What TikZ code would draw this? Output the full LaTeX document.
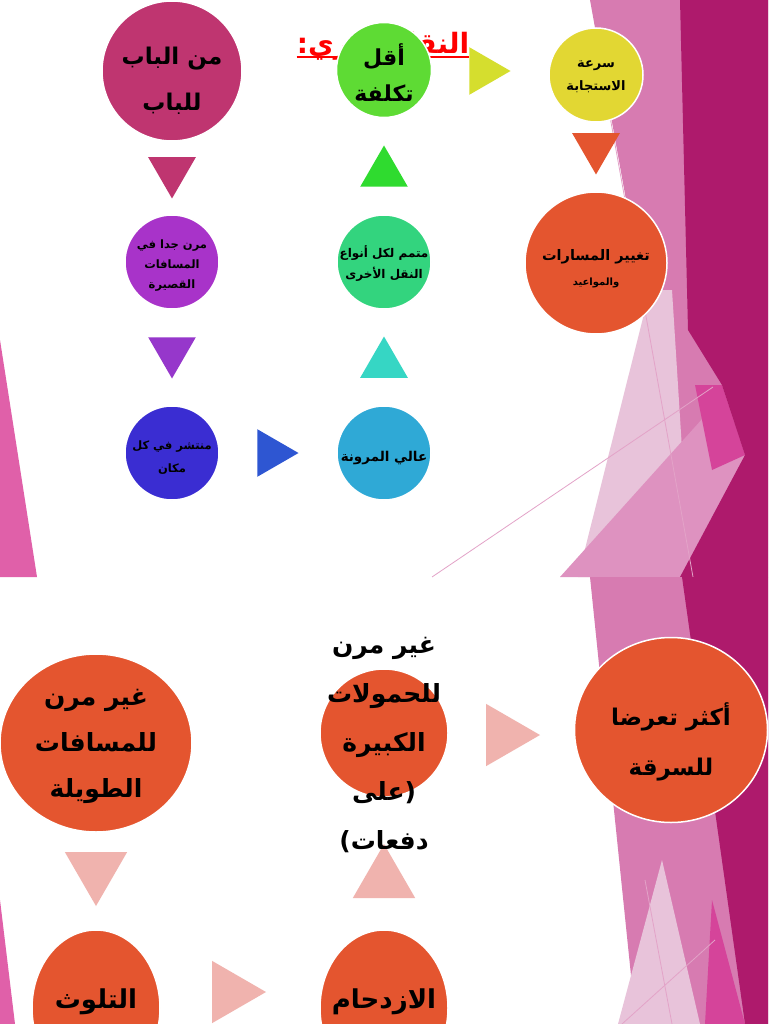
\documentclass[tikz,border=0pt]{standalone}
\usepackage{fontspec}
\setmainfont{DejaVu Sans}
\newfontfamily\arabicfont[Script=Arabic]{DejaVu Sans}
\TeXXeTstate=1
\usetikzlibrary{shapes.geometric}

\definecolor{rosec}{HTML}{BF3570}
\definecolor{limec}{HTML}{5EDB34}
\definecolor{yellowc}{HTML}{E2D733}
\definecolor{orangec}{HTML}{E4552F}
\definecolor{mintc}{HTML}{33D47E}
\definecolor{skyc}{HTML}{2FA9D6}
\definecolor{indigoc}{HTML}{3A2DD2}
\definecolor{purplec}{HTML}{A833C9}
\definecolor{greentri}{HTML}{2FDB2F}
\definecolor{olivetri}{HTML}{D5DE2E}
\definecolor{tealtri}{HTML}{36D6C4}
\definecolor{violettri}{HTML}{9637CB}
\definecolor{bluetri}{HTML}{2E56D2}
\definecolor{paletri}{HTML}{F0B3AE}
\definecolor{magentabg}{HTML}{AE1A6C}
\definecolor{pinkbg}{HTML}{D77BB1}
\definecolor{hotpinkbg}{HTML}{D5449A}
\definecolor{lilacbg}{HTML}{E8C3DA}
\definecolor{midpinkbg}{HTML}{DE92C0}
\definecolor{edgepink}{HTML}{E060A9}

\newcommand{\arl}[1]{\beginR #1\endR}

\begin{document}
\begin{tikzpicture}[x=1pt, y=-1pt]
    \tikzstyle{bubble} = [circle, draw=white, line width=1.5pt, inner sep=0pt]
    \tikzstyle{oval} = [ellipse, draw=white, line width=1.5pt, inner sep=0pt, fill=orangec]
    \tikzstyle{txt} = [align=center, text=black, inner sep=0pt]
    \tikzstyle{tri} = [regular polygon, regular polygon sides=3, inner sep=0pt, minimum size=55pt]
    \tikzstyle{bigtri} = [tri, minimum size=72pt, fill=paletri]

    \fill[white] (0,0) rectangle (768,1024);
    \useasboundingbox (0,0) rectangle (768,1024);
    \clip (0,0) rectangle (768,1024);

    % first slide, background
    \fill[edgepink] (0,340) -- (37,577) -- (0,577) -- cycle;
    \fill[pinkbg] (590,0) -- (768,0) -- (768,577) -- (694,577) -- cycle;
    \fill[lilacbg] (650,290) -- (672,290) -- (690,577) -- (578,577) -- cycle;
    \fill[midpinkbg] (560,577) -- (712,408) -- (745,455) -- (690,577) -- cycle;
    \fill[hotpinkbg] (695,385) -- (722,385) -- (745,455) -- (712,470) -- cycle;
    \fill[magentabg] (680,0) -- (768,0) -- (768,577) -- (680,577) -- (745,455) -- (722,385) -- (688,330) -- cycle;
    \draw[pinkbg!70, line width=0.8pt] (432,577) -- (713,387);
    \draw[pinkbg!70, line width=0.8pt] (607,100) -- (693,577);

    % second slide, background
    \fill[edgepink] (0,900) -- (15,1024) -- (0,1024) -- cycle;
    \fill[pinkbg] (590,577) -- (768,577) -- (768,1024) -- (636,1024) -- cycle;
    \fill[lilacbg] (662,860) -- (700,1024) -- (618,1024) -- cycle;
    \fill[hotpinkbg] (712,900) -- (745,1024) -- (705,1024) -- cycle;
    \fill[magentabg] (682,577) -- (768,577) -- (768,1024) -- (745,1024) -- cycle;
    \draw[pinkbg!70, line width=0.8pt] (645,880) -- (672,1024);
    \draw[pinkbg!70, line width=0.8pt] (622,1024) -- (715,940);

    % title
    \node (title) [txt, text=red, font=\arabicfont\bfseries\fontsize{28}{34}\selectfont, anchor=base] at (383,54) {\arl{النقل البري:}};
    \draw[red, line width=2pt] ([yshift=-3pt]title.base west) -- ([yshift=-3pt]title.base east);

    % first slide, circles
    \node (c1) [bubble, fill=rosec, minimum size=140pt] at (172,71) {};
    \node (c2) [bubble, fill=limec, minimum size=95pt] at (384,70) {};
    \node (c3) [bubble, fill=yellowc, minimum size=94pt] at (596,75) {};
    \node (c4) [bubble, fill=orangec, minimum size=142pt] at (596,263) {};
    \node (c5) [bubble, fill=mintc, minimum size=94pt] at (384,262) {};
    \node (c6) [bubble, fill=skyc, minimum size=94pt] at (384,453) {};
    \node (c7) [bubble, fill=indigoc, minimum size=94pt] at (172,453) {};
    \node (c8) [bubble, fill=purplec, minimum size=94pt] at (172,262) {};

    \node (t1) [tri, fill=rosec, shape border rotate=180] at (172,171) {};
    \node (t2) [tri, fill=greentri] at (384,173) {};
    \node (t3) [tri, fill=olivetri, shape border rotate=-90] at (483,71) {};
    \node (t4) [tri, fill=orangec, shape border rotate=180] at (596,147) {};
    \node (t5) [tri, fill=tealtri] at (384,364) {};
    \node (t6) [tri, fill=violettri, shape border rotate=180] at (172,351) {};
    \node (t7) [tri, fill=bluetri, shape border rotate=-90] at (271,453) {};

    \node (c1t) [txt, font=\arabicfont\bfseries\fontsize{23}{46}\selectfont] at (172,81) {\arl{من الباب}\\\arl{للباب}};
    \node (c2t) [txt, font=\arabicfont\bfseries\fontsize{22}{36}\selectfont] at (384,73) {\arl{أقل}\\\arl{تكلفة}};
    \node (c3t) [txt, font=\arabicfont\bfseries\fontsize{13}{23}\selectfont] at (596,77) {\arl{سرعة}\\\arl{الاستجابة}};
    \node (c4t) [txt, font=\arabicfont\bfseries\fontsize{14.5}{24}\selectfont] at (596,257) {\arl{تغيير المسارات}};
    \node (c4s) [txt, font=\arabicfont\bfseries\fontsize{10}{14}\selectfont] at (596,283) {\arl{والمواعيد}};
    \node (c5t) [txt, font=\arabicfont\bfseries\fontsize{12}{21}\selectfont] at (384,264) {\arl{متمم لكل أنواع}\\\arl{النقل الأخرى}};
    \node (c6t) [txt, font=\arabicfont\bfseries\fontsize{13.5}{24}\selectfont] at (384,458) {\arl{عالي المرونة}};
    \node (c7t) [txt, font=\arabicfont\bfseries\fontsize{11.5}{23}\selectfont] at (172,458) {\arl{منتشر في كل}\\\arl{مكان}};
    \node (c8t) [txt, font=\arabicfont\bfseries\fontsize{11.5}{20}\selectfont] at (172,266) {\arl{مرن جدا في}\\\arl{المسافات}\\\arl{القصيرة}};

    % second slide, circles
    \node (d1) [oval, minimum width=192pt, minimum height=178pt] at (96,743) {};
    \node (d2) [oval, minimum width=128pt, minimum height=128pt] at (384,733) {};
    \node (d3) [oval, minimum width=193pt, minimum height=185pt] at (671,730) {};
    \node (d4) [oval, minimum width=128pt, minimum height=156pt] at (96,1008) {};
    \node (d5) [oval, minimum width=128pt, minimum height=156pt] at (384,1008) {};

    \node (s1) [bigtri, shape border rotate=-90] at (504,735) {};
    \node (s2) [bigtri, shape border rotate=180] at (96,870) {};
    \node (s3) [bigtri] at (384,880) {};
    \node (s4) [bigtri, shape border rotate=-90] at (230,992) {};

    \node (d1t) [txt, font=\arabicfont\bfseries\fontsize{25}{46}\selectfont] at (96,746) {\arl{غير مرن}\\\arl{للمسافات}\\\arl{الطويلة}};
    \node (d2t) [txt, font=\arabicfont\bfseries\fontsize{25}{49}\selectfont] at (384,745) {\arl{غير مرن}\\\arl{للحمولات}\\\arl{الكبيرة}\\\arl{(على}\\\arl{دفعات)}};
    \node (d3t) [txt, font=\arabicfont\bfseries\fontsize{23}{50}\selectfont] at (671,742) {\arl{أكثر تعرضا}\\\arl{للسرقة}};
    \node (d4t) [txt, font=\arabicfont\bfseries\fontsize{26}{34}\selectfont] at (96,1002) {\arl{التلوث}};
    \node (d5t) [txt, font=\arabicfont\bfseries\fontsize{26}{34}\selectfont] at (384,1002) {\arl{الازدحام}};
\end{tikzpicture}
\end{document}
